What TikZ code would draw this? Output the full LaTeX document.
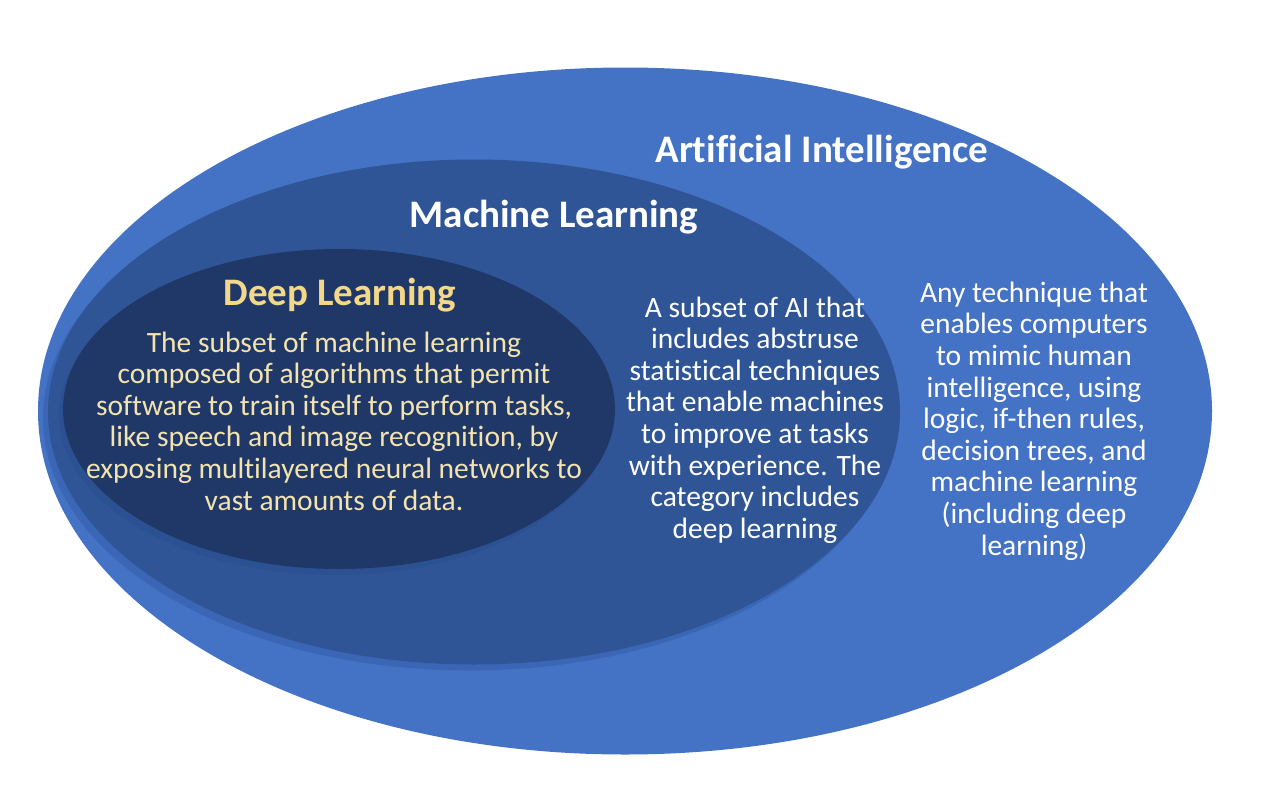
\documentclass[tikz,border=0pt]{standalone}
\usepackage{fontspec}
\setmainfont{Carlito}[RawFeature={-liga;-clig;-calt;-dlig}]
\usetikzlibrary{shapes.geometric}
\definecolor{aiblue}{HTML}{4472C4}
\definecolor{mlblue}{HTML}{2F5597}
\definecolor{mlside}{HTML}{3A66B5}
\definecolor{dlblue}{HTML}{1F3868}
\definecolor{dlside}{HTML}{2B5193}
\definecolor{dlgold}{HTML}{F4D88A}
\definecolor{dltext}{HTML}{F3E3AE}
\tikzset{
  disc/.style={ellipse, draw=none, inner sep=0pt, outer sep=0pt},
  titletext/.style={font=\fontsize{39}{44}\selectfont\bfseries, inner sep=0pt},
  bodytext/.style={font=\fontsize{29.5}{31.6}\selectfont, align=center, inner sep=0pt}
}
\begin{document}
\begin{tikzpicture}[x=1pt,y=-1pt]
\useasboundingbox (0,0) rectangle (1280,806);
\fill[white] (0,0) rectangle (1280,806);
% AI disc
\node[disc, fill=aiblue, minimum width=1174pt, minimum height=687pt] (ai) at (625,411) {};
% ML disc (side + face)
\node[disc, fill=mlside, minimum width=852pt, minimum height=505pt] (mlsidebox) at (469,418) {};
\node[disc, fill=mlblue, minimum width=852pt, minimum height=505pt] (ml) at (474,412) {};
% DL disc (side + face)
\node[disc, fill=dlside, minimum width=552pt, minimum height=320pt] (dlsidebox) at (335,415) {};
\node[disc, fill=dlblue, minimum width=552pt, minimum height=320pt] (dl) at (339,409) {};
% titles
\node[titletext, text=white] (aititle) at (822,152) {Artificial Intelligence};
\node[titletext, text=white] (mltitle) at (554,217) {Machine Learning};
\node[titletext, text=dlgold] (dltitle) at (340,295) {Deep Learning};
% bodies
\node[bodytext, text=dltext] (dlbody) at (334,421) {The subset of machine learning\\composed of algorithms that permit\\software to train itself to perform tasks,\\like speech and image recognition, by\\exposing multilayered neural networks to\\vast amounts of data.};
\node[bodytext, text=white] (mlbody) at (755,420) {A subset of AI that\\includes abstruse\\statistical techniques\\that enable machines\\to improve at tasks\\with experience. The\\category includes\\deep learning};
\node[bodytext, text=white] (aibody) at (1034,421) {Any technique that\\enables computers\\to mimic human\\intelligence, using\\logic, if-then rules,\\decision trees, and\\machine learning\\(including deep\\learning)};
\end{tikzpicture}
\end{document}
